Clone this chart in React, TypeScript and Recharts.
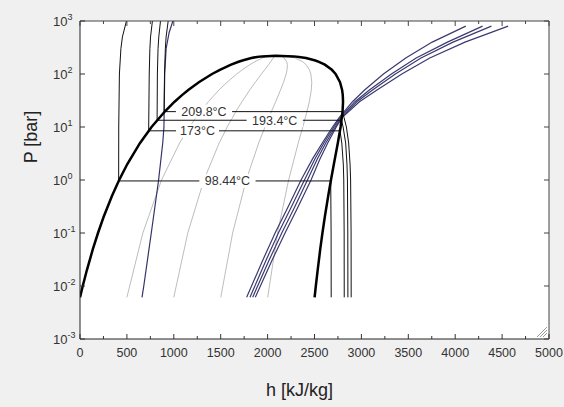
import React from 'react';
import { LineChart, Line, XAxis, YAxis, CartesianGrid } from 'recharts';

const FONT = 'Arial, "Liberation Sans", sans-serif';

// saturation dome, P in bar, h in kJ/kg
const satP = [0.00611, 0.01, 0.02, 0.05, 0.1, 0.2, 0.5, 1, 2, 5, 10, 20, 30, 40, 50, 70, 100, 120, 150, 170, 180, 200, 210, 215, 220.6];
const satLiqH = [0, 29.3, 73.5, 137.8, 191.8, 251.4, 340.5, 417.5, 504.7, 640.2, 762.8, 908.8, 1008.4, 1087.3, 1154.2, 1267, 1407.6, 1491.3, 1610.5, 1690.3, 1732, 1826.3, 1888, 1940, 2087];
const satVapH = [2501, 2514.2, 2533.9, 2561.5, 2584.6, 2609.7, 2646, 2675.5, 2706.7, 2748.7, 2778.1, 2799.5, 2804.2, 2801.4, 2794.3, 2772.1, 2724.7, 2684.9, 2610.5, 2547.2, 2509.1, 2409.7, 2334, 2280, 2087];

// quality lines (light gray)
const qualP = [0.00611, 0.1, 1, 5, 10, 20, 30, 50, 70, 100, 120, 150, 170, 200, 210];
const qual02H = [500, 670, 869, 1062, 1166, 1287, 1368, 1482, 1568, 1671, 1730, 1811, 1862, 1943, 1977];
const qual04H = [1000, 1149, 1321, 1484, 1569, 1665, 1727, 1810, 1869, 1934, 1969, 2011, 2033, 2060, 2066];
const qual06H = [1501, 1627, 1772, 1905, 1972, 2043, 2086, 2138, 2170, 2198, 2207, 2211, 2204, 2176, 2156];
const qual08H = [2001, 2106, 2224, 2327, 2375, 2421, 2445, 2466, 2471, 2461, 2446, 2411, 2376, 2293, 2245];

// isentropes (navy)
const isenP = [0.00611, 0.03, 0.1, 0.3, 1, 2.5, 5, 10, 15, 30, 50, 100, 200, 400, 800];
const isenAH = [1777, 1946, 2080, 2214, 2357, 2479, 2583, 2692, 2763, 2905, 3034, 3235, 3473, 3755, 4113];
const isenBH = [1812, 1981, 2115, 2249, 2393, 2504, 2600, 2706, 2772, 2931, 3085, 3320, 3584, 3917, 4292];
const isenCH = [1841, 2013, 2151, 2285, 2425, 2530, 2620, 2721, 2785, 2952, 3119, 3362, 3635, 3977, 4386];
const isenDH = [1869, 2045, 2186, 2320, 2463, 2558, 2641, 2732, 2794, 2979, 3166, 3431, 3729, 4104, 4565];
const isenLiqP = [0.00611, 0.01, 0.1, 1, 5, 10, 19.5, 100, 300, 600, 1000];
const isenLiqH = [661, 680, 760, 838, 882, 895, 897, 903, 918, 950, 990];

// isotherms: liquid branch (top -> saturation), vapour branch (saturation -> bottom)
const t1LiqP = [1000, 500, 300, 100, 10, 0.96];
const t1LiqH = [495, 452, 436, 420, 413, 412];
const t1VapP = [0.96, 0.1, 0.00611];
const t1VapH = [2673, 2677, 2678];

const t2LiqP = [1000, 500, 300, 100, 8.47];
const t2LiqH = [772, 752, 745, 738, 732];
const t2VapP = [8.47, 5, 2, 1, 0.1, 0.00611];
const t2VapH = [2772, 2791, 2807, 2812, 2816, 2817];

const t3LiqP = [1000, 500, 300, 100, 13.4];
const t3LiqH = [858, 840, 832, 825, 822];
const t3VapP = [13.4, 10, 5, 2, 1, 0.1, 0.00611];
const t3VapH = [2788, 2805, 2832, 2846, 2851, 2855, 2856];

const t4LiqP = [1000, 500, 300, 100, 19.5];
const t4LiqH = [940, 918, 910, 901, 897];
const t4VapP = [19.5, 15, 10, 5, 2, 1, 0.1, 0.00611];
const t4VapH = [2797, 2815, 2840, 2864, 2879, 2885, 2890, 2891];

// isotherm labels
const labelText = ['98.44°C', '173°C', '193.4°C', '209.8°C'];
const labelH = [1572, 1253, 2076, 1322];
const labelP = [0.96, 8.47, 13.4, 19.5];

const xTicks = [0, 250, 500, 750, 1000, 1250, 1500, 1750, 2000, 2250, 2500, 2750, 3000, 3250, 3500, 3750, 4000, 4250, 4500, 4750, 5000];
const yTicks = [0.001, 0.01, 0.1, 1, 10, 100, 1000];
const yTickExp = ['-3', '-2', '-1', '0', '1', '2', '3'];

const pts = (hs: number[], ps: number[]) => hs.map((h, i) => ({ h, p: ps[i] }));

const dome = [...pts(satLiqH, satP), ...pts(satVapH, satP).reverse().slice(1)];
const iso1 = [...pts(t1LiqH, t1LiqP), ...pts(t1VapH, t1VapP)];
const iso2 = [...pts(t2LiqH, t2LiqP), ...pts(t2VapH, t2VapP)];
const iso3 = [...pts(t3LiqH, t3LiqP), ...pts(t3VapH, t3VapP)];
const iso4 = [...pts(t4LiqH, t4LiqP), ...pts(t4VapH, t4VapP)];
const labels = labelText.map((text, i) => ({ h: labelH[i], p: labelP[i], text }));

const BottomTick = (props: any) => {
  const { x, y, payload } = props;
  const major = payload.value % 500 === 0;
  return (
    <g>
      <line x1={x} y1={y} x2={x} y2={y - (major ? 5 : 3)} stroke="#333" />
      {major && (
        <text x={x} y={y + 18} textAnchor="middle" fontSize={12.5} fill="#333" fontFamily={FONT}>
          {payload.value}
        </text>
      )}
    </g>
  );
};

const TopTick = (props: any) => {
  const { x, y, payload } = props;
  const major = payload.value % 500 === 0;
  return <line x1={x} y1={y} x2={x} y2={y + (major ? 5 : 3)} stroke="#444" />;
};

const LeftTick = (props: any) => {
  const { x, y, payload } = props;
  const exp = yTickExp[yTicks.indexOf(payload.value)];
  return (
    <g>
      <line x1={x} y1={y} x2={x + 5} y2={y} stroke="#333" />
      <text x={x - 27} y={y + 4.5} fontSize={13} fill="#333" fontFamily={FONT}>
        10<tspan dy={-6} fontSize={9}>{exp}</tspan>
      </text>
    </g>
  );
};

const RightTick = (props: any) => {
  const { x, y } = props;
  return <line x1={x} y1={y} x2={x - 5} y2={y} stroke="#444" />;
};

const IsoLabel = (props: any) => {
  const { cx, cy, payload, index } = props;
  const w = payload.text.length * 6.6 + 10;
  return (
    <g key={'lbl' + index}>
      <rect x={cx - w / 2} y={cy - 7} width={w} height={14} fill="#fff" />
      <text x={cx} y={cy + 4.5} textAnchor="middle" fontSize={12.5} fill="#333" fontFamily={FONT}>
        {payload.text}
      </text>
    </g>
  );
};

const XTitle = () => (
  <text x={299.5} y={396} textAnchor="middle" fontSize={18} fill="#222" fontFamily={FONT}>
    h [kJ/kg]
  </text>
);

const YTitle = () => (
  <text x={37} y={137} transform="rotate(-90 37 137)" textAnchor="middle" fontSize={18} fill="#222" fontFamily={FONT}>
    P [bar]
  </text>
);

const Grip = () => (
  <g stroke="#999" strokeWidth={1}>
    <line x1={537} y1={337} x2={547} y2={327} />
    <line x1={540} y1={337} x2={547} y2={330} />
    <line x1={543} y1={337} x2={547} y2={333} />
  </g>
);

export default function App() {
  return (
    <div style={{ position: 'absolute', left: 0, top: 0, width: 564, height: 407, background: '#f0f0f0' }}>
      <LineChart width={564} height={407} margin={{ top: 16, right: 10, bottom: 38, left: 20 }}>
        <CartesianGrid xAxisId="bottom" yAxisId="left" horizontal={false} vertical={false} fill="#fff" />
        <XAxis
          xAxisId="bottom"
          dataKey="h"
          type="number"
          domain={[0, 5000]}
          ticks={xTicks}
          interval={0}
          allowDataOverflow
          height={30}
          tickSize={0}
          tickMargin={0}
          tickLine={false}
          tick={<BottomTick />}
          axisLine={{ stroke: '#222' }}
          label={<XTitle />}
        />
        <XAxis
          xAxisId="top"
          orientation="top"
          dataKey="h"
          type="number"
          domain={[0, 5000]}
          ticks={xTicks}
          interval={0}
          allowDataOverflow
          height={5}
          tickSize={0}
          tickMargin={0}
          tickLine={false}
          tick={<TopTick />}
          axisLine={{ stroke: '#444' }}
        />
        <YAxis
          yAxisId="left"
          type="number"
          scale="log"
          domain={[0.001, 1000]}
          ticks={yTicks}
          interval={0}
          allowDataOverflow
          width={60}
          tickSize={0}
          tickMargin={0}
          tickLine={false}
          tick={<LeftTick />}
          axisLine={{ stroke: '#222' }}
          label={<YTitle />}
        />
        <YAxis
          yAxisId="right"
          orientation="right"
          type="number"
          scale="log"
          domain={[0.001, 1000]}
          ticks={yTicks}
          interval={0}
          allowDataOverflow
          width={5}
          tickSize={0}
          tickMargin={0}
          tickLine={false}
          tick={<RightTick />}
          axisLine={{ stroke: '#444' }}
          label={<Grip />}
        />

        {[qual02H, qual04H, qual06H, qual08H].map((hs, i) => (
          <Line key={'q' + i} xAxisId="top" yAxisId="right" data={pts(hs, qualP)} dataKey="p" type="linear"
            stroke="#bdbdbd" strokeWidth={1} dot={false} isAnimationActive={false} />
        ))}
        {[isenAH, isenBH, isenCH, isenDH].map((hs, i) => (
          <Line key={'s' + i} xAxisId="bottom" yAxisId="left" data={pts(hs, isenP)} dataKey="p" type="linear"
            stroke="#3a3a70" strokeWidth={1.2} dot={false} isAnimationActive={false} />
        ))}
        <Line xAxisId="bottom" yAxisId="left" data={pts(isenLiqH, isenLiqP)} dataKey="p" type="linear"
          stroke="#34346c" strokeWidth={1.2} dot={false} isAnimationActive={false} />
        {[iso1, iso2, iso3, iso4].map((d, i) => (
          <Line key={'t' + i} xAxisId="bottom" yAxisId="left" data={d} dataKey="p" type="linear"
            stroke="#111" strokeWidth={1} dot={false} isAnimationActive={false} />
        ))}
        <Line xAxisId="bottom" yAxisId="left" data={dome} dataKey="p" type="linear"
          stroke="#000" strokeWidth={2.5} dot={false} isAnimationActive={false} />
        <Line xAxisId="bottom" yAxisId="left" data={labels} dataKey="p" type="linear"
          stroke="none" dot={(p: any) => <IsoLabel key={'d' + p.index} {...p} />} activeDot={false} isAnimationActive={false} />
      </LineChart>
    </div>
  );
}
